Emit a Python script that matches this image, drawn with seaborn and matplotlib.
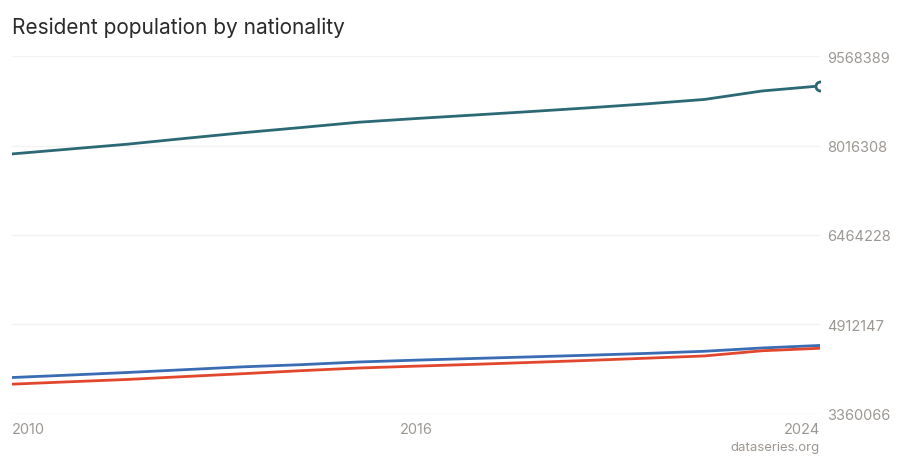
import pandas as pd
import numpy as np
import seaborn as sns
import matplotlib.pyplot as plt

# Werte (Jahresende)
years = list(range(2010, 2025))
total = [7870134, 7954662, 8039060, 8139631, 8237666, 8327126, 8419550, 8484130,
         8544527, 8606033, 8670300, 8738791, 8815385, 8962258, 9048905]
women = [3992708, 4035000, 4080000, 4129000, 4178000, 4215000, 4262000, 4294000,
         4323000, 4351000, 4380000, 4411000, 4448000, 4505000, 4549000]
men = [3877426, 3919000, 3959000, 4010000, 4059000, 4111000, 4157000, 4190000,
       4221000, 4255000, 4290000, 4328000, 4367000, 4457000, 4500000]

y_ticks = [3360066, 4912147, 6464228, 8016308, 9568389]
x_labels = ["2010", "2016", "2024"]

df = pd.DataFrame({"year": years * 3,
                   "value": total + women + men,
                   "series": ["total"] * 15 + ["women"] * 15 + ["men"] * 15})

sns.set_style("white")
plt.rcParams["font.family"] = ["Inter", "DejaVu Sans"]

fig = plt.figure(figsize=(9, 4.6), dpi=100)
ax = fig.add_axes([12 / 900, 45 / 460, 808 / 900, 358 / 460])

palette = {"total": "#2b6a74", "women": "#3a6cb4", "men": "#e2472d"}
sns.lineplot(data=df, x="year", y="value", hue="series", palette=palette,
             linewidth=2, legend=False, ax=ax, zorder=3)

# offener Kreis am letzten Punkt (am Rand abgeschnitten wie im Original)
ax.plot(years[-1], total[-1], marker="o", ms=6.5, mfc="white", mec="#2b6a74",
        mew=2, zorder=4, clip_on=True)

ax.set_xlim(years[0], years[-1])
ax.set_ylim(y_ticks[0], y_ticks[-1])

for i, t in enumerate(y_ticks):
    ax.axhline(t, color="#e6e6e6" if i == 0 else "#f3f3f3", lw=1, zorder=1)

ax.yaxis.tick_right()
ax.set_yticks(y_ticks)
ax.set_yticklabels([str(t) for t in y_ticks])
ax.tick_params(axis="y", length=0, pad=5, labelsize=10.5, labelcolor="#9c9792")

xpos = [years[0], (years[0] + years[-1]) / 2, years[-1]]
ax.set_xticks(xpos)
ax.set_xticklabels(x_labels)
ax.tick_params(axis="x", length=0, pad=6, labelsize=10.5, labelcolor="#9c9792")
xl = ax.get_xticklabels()
xl[0].set_ha("left")
xl[-1].set_ha("right")

ax.set_xlabel("")
ax.set_ylabel("")
sns.despine(ax=ax, left=True, bottom=True)

fig.text(12 / 900, 1 - 28 / 460, "Resident population by nationality",
         fontsize=15, color="#2a2a2a", va="center", ha="left")
fig.text(820 / 900, 1 - 448 / 460, "dataseries.org", fontsize=9.5,
         color="#9c9792", va="center", ha="right")

fig.savefig("out.png", dpi=100)
